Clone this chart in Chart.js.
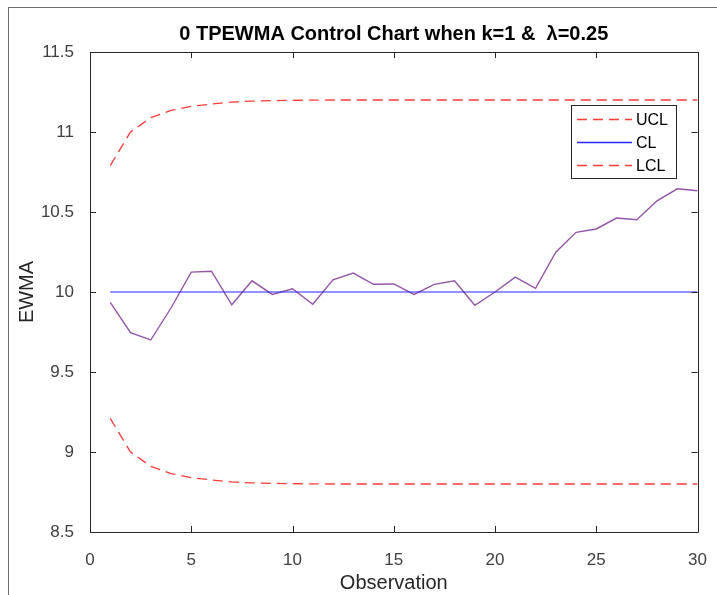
<!DOCTYPE html>
<html>
<head>
<meta charset="utf-8">
<script src="https://cdn.jsdelivr.net/npm/chart.js@4/dist/chart.umd.min.js"></script>
<style>
  html, body { margin: 0; padding: 0; background: #fff; overflow: hidden; }
  #wrap { position: relative; width: 717px; height: 595px; }
  #frame { position: absolute; left: 8px; top: 7px; width: 720px; height: 600px;
           border-left: 1px solid #6e6e6e; border-top: 1px solid #6e6e6e; pointer-events: none; }
  canvas { position: absolute; left: 0; top: 0; }
</style>
</head>
<body>
<div id="wrap">
  <canvas id="chart" width="717" height="595"></canvas>
  <div id="frame"></div>
</div>
<script>
// observation numbers
const observations = [1, 2, 3, 4, 5, 6, 7, 8, 9, 10, 11, 12, 13, 14, 15,
  16, 17, 18, 19, 20, 21, 22, 23, 24, 25, 26, 27, 28, 29, 30];

// EWMA statistic
const ewma = [9.935, 9.746, 9.70, 9.90, 10.124, 10.13, 9.92, 10.07, 9.985, 10.02,
  9.923, 10.076, 10.118, 10.048, 10.05, 9.985, 10.048, 10.07, 9.917, 10.0,
  10.093, 10.023, 10.249, 10.373, 10.394, 10.462, 10.452, 10.57, 10.645, 10.633];

const ucl = [10.79, 11.0, 11.09, 11.135, 11.16, 11.175, 11.187, 11.193, 11.196, 11.198,
  11.199, 11.2, 11.2, 11.2, 11.2, 11.2, 11.2, 11.2, 11.2, 11.2,
  11.2, 11.2, 11.2, 11.2, 11.2, 11.2, 11.2, 11.2, 11.2, 11.2];

const cl = [10, 10, 10, 10, 10, 10, 10, 10, 10, 10,
  10, 10, 10, 10, 10, 10, 10, 10, 10, 10,
  10, 10, 10, 10, 10, 10, 10, 10, 10, 10];

const lcl = [9.21, 9.0, 8.91, 8.865, 8.84, 8.825, 8.813, 8.807, 8.804, 8.802,
  8.801, 8.8, 8.8, 8.8, 8.8, 8.8, 8.8, 8.8, 8.8, 8.8,
  8.8, 8.8, 8.8, 8.8, 8.8, 8.8, 8.8, 8.8, 8.8, 8.8];

const xTicks = [0, 5, 10, 15, 20, 25, 30];
const yTicks = [8.5, 9, 9.5, 10, 10.5, 11, 11.5];

const legendItems = ['UCL', 'CL', 'LCL'];

function toPoints(values) {
  return observations.map((x, i) => ({ x: x, y: values[i] }));
}

const axisColor = '#262626';
const redLine = '#ff3a3a';
const blueLine = '#2626ff';
const purpleLine = '#9456a8';

// box, inward ticks on all four sides, and the legend
const matlabAxes = {
  id: 'matlabAxes',
  afterDatasetsDraw(chart) {
    const ctx = chart.ctx;
    const area = chart.chartArea;
    const xs = chart.scales.x;
    const ys = chart.scales.y;
    const tick = 6;
    ctx.save();
    ctx.strokeStyle = axisColor;
    ctx.lineWidth = 1;
    ctx.beginPath();
    ctx.rect(Math.round(area.left) + 0.5, Math.round(area.top) + 0.5,
      Math.round(area.right - area.left), Math.round(area.bottom - area.top));
    xTicks.forEach((v) => {
      const px = Math.round(xs.getPixelForValue(v)) + 0.5;
      ctx.moveTo(px, area.bottom);
      ctx.lineTo(px, area.bottom - tick);
      ctx.moveTo(px, area.top);
      ctx.lineTo(px, area.top + tick);
    });
    yTicks.forEach((v) => {
      const py = Math.round(ys.getPixelForValue(v)) + 0.5;
      ctx.moveTo(area.left, py);
      ctx.lineTo(area.left + tick, py);
      ctx.moveTo(area.right, py);
      ctx.lineTo(area.right - tick, py);
    });
    ctx.stroke();

    // legend inside the axes, top right
    const bx = 571.5, by = 105.5, bw = 105, bh = 73;
    ctx.fillStyle = '#fff';
    ctx.fillRect(bx, by, bw, bh);
    ctx.strokeStyle = axisColor;
    ctx.strokeRect(bx, by, bw, bh);
    const colors = [redLine, blueLine, redLine];
    const dashed = [true, false, true];
    legendItems.forEach((name, i) => {
      const y = 119.5 + i * 23;
      ctx.beginPath();
      ctx.strokeStyle = colors[i];
      ctx.lineWidth = 1.3;
      ctx.setLineDash(dashed[i] ? [10, 6] : []);
      ctx.moveTo(577, y);
      ctx.lineTo(632, y);
      ctx.stroke();
      ctx.setLineDash([]);
      ctx.fillStyle = '#000';
      ctx.font = '16px "Liberation Sans", Arial, sans-serif';
      ctx.textBaseline = 'middle';
      ctx.textAlign = 'left';
      ctx.fillText(name, 636, y + 1);
    });
    ctx.restore();
  }
};

const ctx = document.getElementById('chart').getContext('2d');

new Chart(ctx, {
  type: 'line',
  data: {
    datasets: [
      {
        label: 'UCL',
        data: toPoints(ucl),
        borderColor: redLine,
        borderWidth: 1.3,
        borderDash: [10, 6],
        pointRadius: 0,
        tension: 0,
        fill: false,
      },
      {
        label: 'CL',
        data: toPoints(cl),
        borderColor: blueLine,
        borderWidth: 1.2,
        pointRadius: 0,
        tension: 0,
        fill: false,
      },
      {
        label: 'LCL',
        data: toPoints(lcl),
        borderColor: redLine,
        borderWidth: 1.3,
        borderDash: [10, 6],
        pointRadius: 0,
        tension: 0,
        fill: false,
      },
      {
        label: 'EWMA',
        data: toPoints(ewma),
        borderColor: purpleLine,
        borderWidth: 1.4,
        pointRadius: 0,
        tension: 0,
        fill: false,
      },
    ],
  },
  options: {
    responsive: false,
    animation: false,
    layout: { padding: { left: 0, right: 19, top: 0, bottom: 0 } },
    plugins: {
      legend: { display: false },
      tooltip: { enabled: false },
      title: {
        display: true,
        fullSize: false,
        text: '0 TPEWMA Control Chart when k=1 &  \u03bb=0.25',
        color: '#000',
        font: { family: '"Liberation Sans", Arial, sans-serif', size: 20, weight: 'bold' },
        padding: { top: 22, bottom: 6 },
      },
    },
    scales: {
      x: {
        type: 'linear',
        min: 0,
        max: 30,
        afterFit(scale) { scale.height = 63; },
        afterBuildTicks(scale) { scale.ticks = xTicks.map((v) => ({ value: v })); },
        grid: { display: false },
        border: { display: false },
        ticks: {
          color: '#404040',
          padding: 10,
          maxRotation: 0,
          callback: (v) => String(v),
          font: { family: '"Liberation Sans", Arial, sans-serif', size: 17 },
        },
        title: {
          display: true,
          text: 'Observation',
          color: '#262626',
          padding: { top: 0, bottom: 0 },
          font: { family: '"Liberation Sans", Arial, sans-serif', size: 20 },
        },
      },
      y: {
        min: 8.5,
        max: 11.5,
        afterFit(scale) { scale.width = 90; },
        afterBuildTicks(scale) { scale.ticks = yTicks.map((v) => ({ value: v })); },
        grid: { display: false },
        border: { display: false },
        ticks: {
          color: '#404040',
          padding: 8,
          callback: (v) => String(v),
          font: { family: '"Liberation Sans", Arial, sans-serif', size: 17 },
        },
        title: {
          display: true,
          text: 'EWMA',
          color: '#262626',
          padding: { top: 15, bottom: 0 },
          font: { family: '"Liberation Sans", Arial, sans-serif', size: 20 },
        },
      },
    },
  },
  plugins: [matlabAxes],
});
</script>
</body>
</html>
